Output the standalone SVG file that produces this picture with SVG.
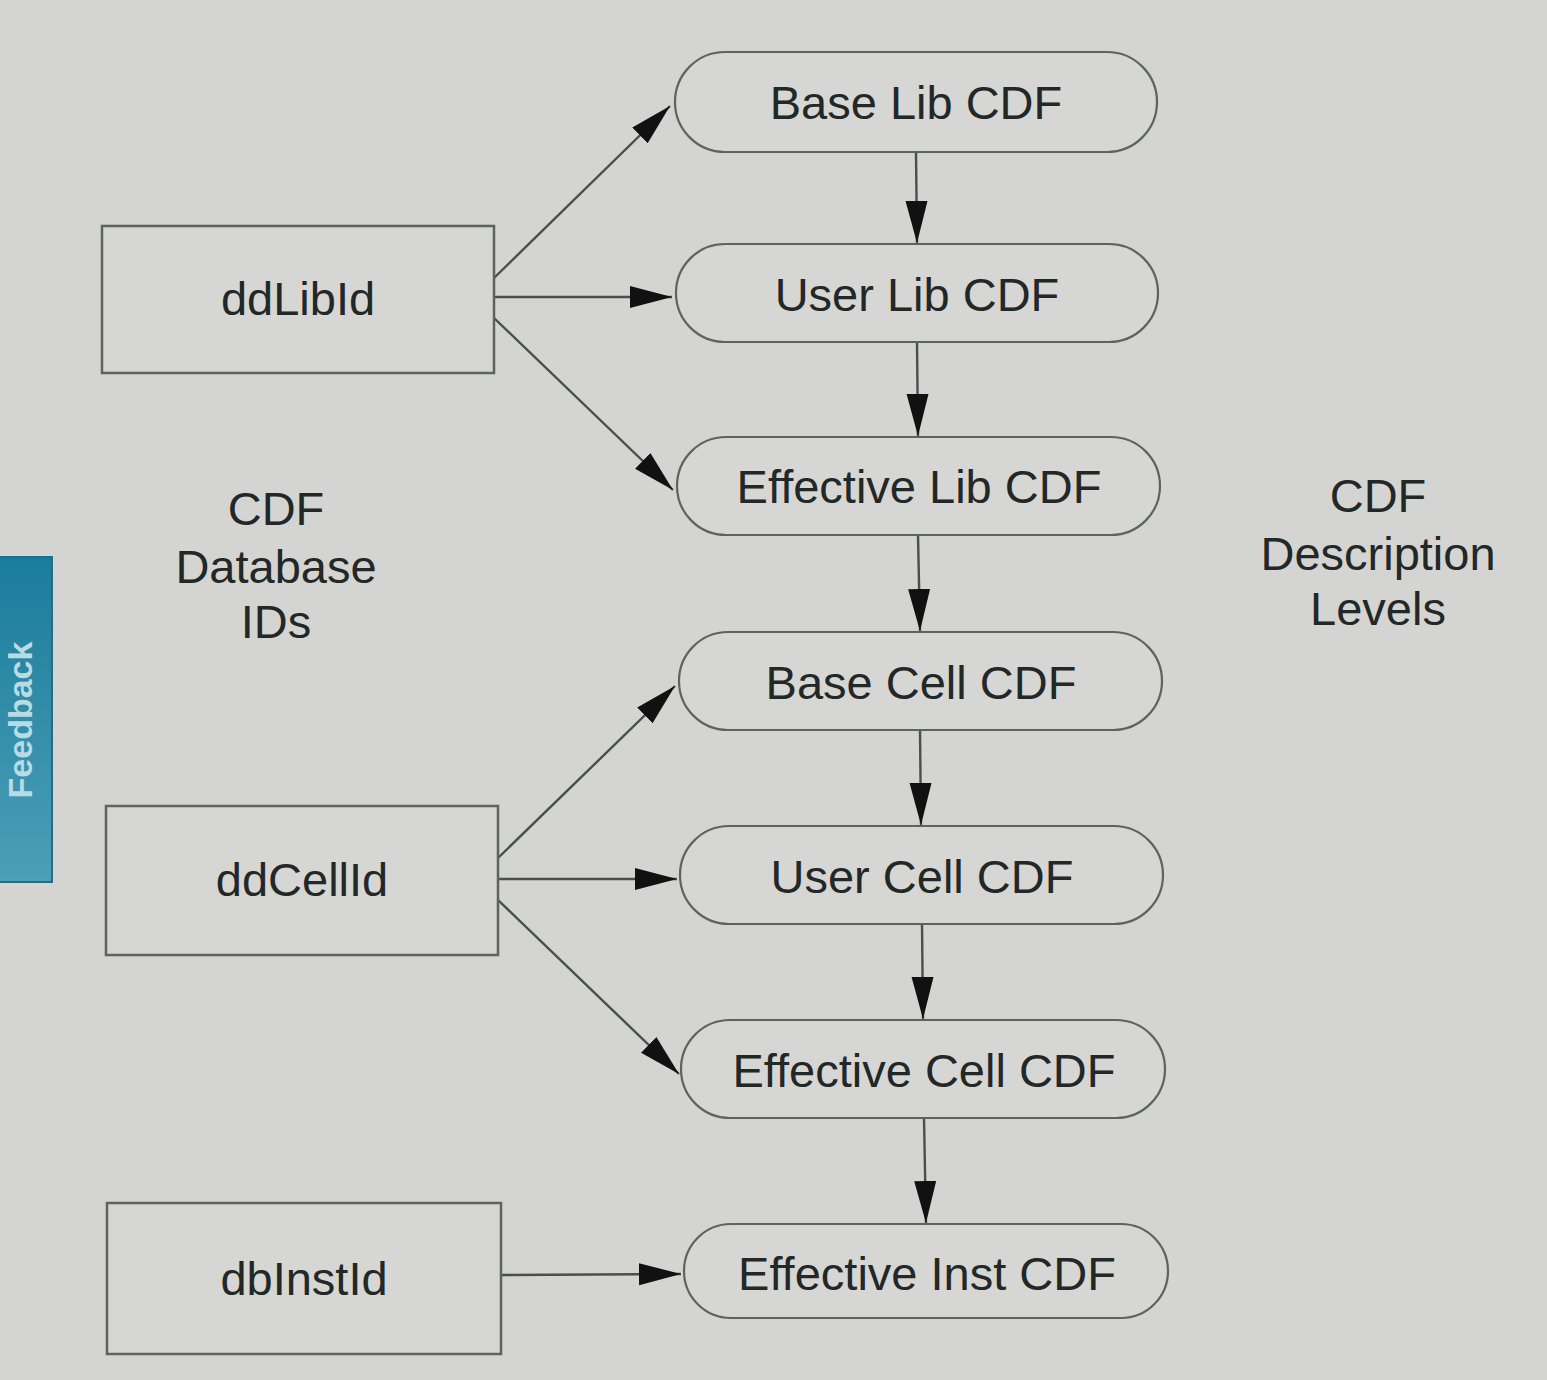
<svg xmlns="http://www.w3.org/2000/svg" width="1547" height="1380" viewBox="0 0 1547 1380">
<defs>
<linearGradient id="tabg" x1="0" y1="0" x2="0" y2="1">
<stop offset="0" stop-color="#1a7c9c"/>
<stop offset="1" stop-color="#4c9fb6"/>
</linearGradient>
<marker id="arr" markerUnits="userSpaceOnUse" markerWidth="44" markerHeight="24" refX="42" refY="12" orient="auto">
<path d="M0,1 L42,12 L0,23 z" fill="#111"/>
</marker>
</defs>
<style>
.bg{fill:#d4d4d2}
.box{fill:#d6d6d4;stroke:#5e6260;stroke-width:2.5}
.pill{fill:#d6d6d4;stroke:#5e6260;stroke-width:2.2}
.t{font-family:"Liberation Sans",Arial,sans-serif;font-size:47px;fill:#232725;text-anchor:middle}
.c{stroke:#4a4e4c;stroke-width:2.4;fill:none;marker-end:url(#arr)}
</style>
<rect class="bg" x="0" y="0" width="1547" height="1380"/>
<g id="feedback">
<rect x="-4" y="557" width="56" height="325" fill="url(#tabg)" stroke="#1f6f88" stroke-width="2"/>
<text x="0" y="0" transform="translate(32,720) rotate(-90)" style="font-family:'Liberation Sans',Arial,sans-serif;font-weight:bold;font-size:34px;fill:#b9dbe4;text-anchor:middle">Feedback</text>
</g>
<g id="connectors">
<line class="c" x1="494" y1="278" x2="670" y2="106"/>
<line class="c" x1="494" y1="297" x2="672" y2="297"/>
<line class="c" x1="494" y1="318" x2="673" y2="490"/>
<line class="c" x1="498" y1="858" x2="675" y2="686"/>
<line class="c" x1="498" y1="879" x2="677" y2="879"/>
<line class="c" x1="498" y1="900" x2="679" y2="1074"/>
<line class="c" x1="501" y1="1275" x2="681" y2="1274"/>
<line class="c" x1="916" y1="152" x2="917" y2="243"/>
<line class="c" x1="917" y1="342" x2="918" y2="436"/>
<line class="c" x1="918" y1="535" x2="920" y2="631"/>
<line class="c" x1="920" y1="730" x2="921" y2="825"/>
<line class="c" x1="922" y1="924" x2="923" y2="1019"/>
<line class="c" x1="924" y1="1118" x2="926" y2="1223"/>
</g>
<g id="ddLibId"><rect class="box" x="102" y="226" width="392" height="147"/><text class="t" x="298" y="315">ddLibId</text></g>
<g id="ddCellId"><rect class="box" x="106" y="806" width="392" height="149"/><text class="t" x="302" y="896">ddCellId</text></g>
<g id="dbInstId"><rect class="box" x="107" y="1203" width="394" height="151"/><text class="t" x="304" y="1295">dbInstId</text></g>
<g id="label-ids"><text class="t" x="276" y="525">CDF</text><text class="t" x="276" y="583">Database</text><text class="t" x="276" y="638">IDs</text></g>
<g id="label-levels"><text class="t" x="1378" y="512">CDF</text><text class="t" x="1378" y="570">Description</text><text class="t" x="1378" y="625">Levels</text></g>
<g id="baseLib"><rect class="pill" x="675" y="52" width="482" height="100" rx="50"/><text class="t" x="916" y="119">Base Lib CDF</text></g>
<g id="userLib"><rect class="pill" x="676" y="244" width="482" height="98" rx="49"/><text class="t" x="917" y="311">User Lib CDF</text></g>
<g id="effLib"><rect class="pill" x="677" y="437" width="483" height="98" rx="49"/><text class="t" x="919" y="503">Effective Lib CDF</text></g>
<g id="baseCell"><rect class="pill" x="679" y="632" width="483" height="98" rx="49"/><text class="t" x="921" y="699">Base Cell CDF</text></g>
<g id="userCell"><rect class="pill" x="680" y="826" width="483" height="98" rx="49"/><text class="t" x="922" y="893">User Cell CDF</text></g>
<g id="effCell"><rect class="pill" x="681" y="1020" width="484" height="98" rx="49"/><text class="t" x="924" y="1087">Effective Cell CDF</text></g>
<g id="effInst"><rect class="pill" x="684" y="1224" width="484" height="94" rx="47"/><text class="t" x="927" y="1290">Effective Inst CDF</text></g>
</svg>
